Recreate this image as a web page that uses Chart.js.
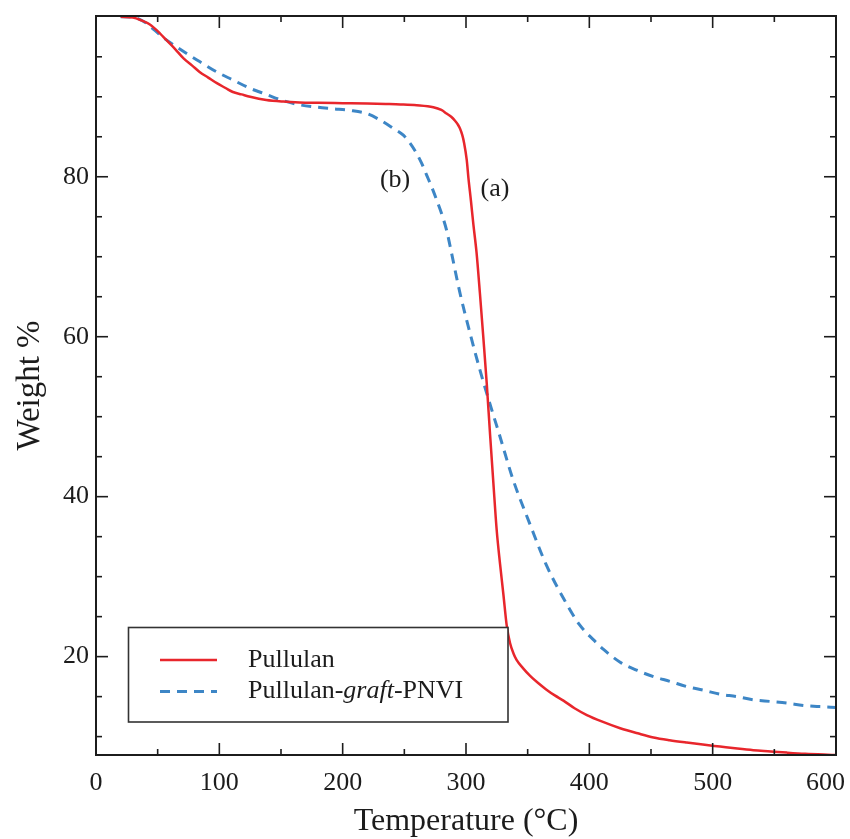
<!DOCTYPE html>
<html><head><meta charset="utf-8">
<script src="https://cdn.jsdelivr.net/npm/chart.js@4/dist/chart.umd.min.js"></script>
<style>html,body{margin:0;padding:0;background:#fff;}canvas{display:block;}</style>
</head><body>
<canvas id="c" width="850" height="839"></canvas>
<script>
// ---- data ----
const pullulanTemp   = [20, 30, 36, 44, 52, 57, 64, 71, 78, 84, 91, 98, 105, 111, 118, 125, 138, 152, 165, 180, 200, 220, 235, 247, 260, 273.5, 280, 284.3, 288, 291.1, 293.5, 295.2, 297, 298.5, 300.6, 302, 304, 306, 308.5, 311.3, 314, 316.8, 319.5, 322.2, 324.9, 327.6, 330.3, 333, 335.7, 338.5, 341, 346, 352, 358.5, 365, 372, 379, 388, 398, 410, 425, 440, 452, 465, 479, 492, 506, 520, 533, 547, 560, 575, 590, 600];
const pullulanWeight = [100, 99.9, 99.6, 99.0, 97.9, 97.1, 96.0, 94.8, 93.9, 93.1, 92.4, 91.7, 91.1, 90.6, 90.3, 90.0, 89.6, 89.4, 89.3, 89.25, 89.2, 89.15, 89.1, 89.05, 88.95, 88.7, 88.35, 87.9, 87.5, 87.0, 86.5, 86.0, 85.2, 84.2, 82.1, 79.8, 77.0, 74.0, 70.6, 65.4, 60.0, 54.2, 47.8, 41.7, 35.8, 31.6, 27.8, 23.9, 21.7, 20.4, 19.6, 18.6, 17.6, 16.7, 15.9, 15.15, 14.5, 13.55, 12.7, 11.9, 11.05, 10.38, 9.9, 9.55, 9.25, 9.0, 8.75, 8.5, 8.3, 8.15, 8.0, 7.85, 7.75, 7.7];
const graftTemp      = [20, 30, 40, 47, 53, 60, 73.5, 84, 98, 111, 125, 138, 152, 165, 179, 192.5, 206, 219.5, 230.3, 241.1, 249.2, 254.6, 260, 264, 268.1, 272.1, 276.2, 280.2, 284.3, 287, 295.2, 303, 311, 319, 327, 338, 352, 365, 379, 392, 406, 411.5, 425, 438.5, 452, 465.5, 479, 492.5, 506, 519.5, 533, 546.5, 560, 573.5, 587, 600];
const graftWeight    = [100, 99.95, 99.3, 98.4, 97.6, 96.8, 95.4, 94.4, 93.1, 92.1, 91.05, 90.3, 89.5, 89.0, 88.7, 88.5, 88.3, 87.9, 87.1, 86.05, 85.2, 84.2, 82.9, 81.7, 80.2, 78.75, 77.1, 75.4, 73.3, 71.4, 65.4, 60.6, 56.0, 51.8, 47.8, 42.2, 36.5, 31.5, 27.3, 24.0, 21.7, 20.9, 19.3, 18.3, 17.5, 16.9, 16.25, 15.8, 15.3, 15.0, 14.6, 14.4, 14.2, 13.9, 13.75, 13.65];
const seriesLabels   = ['Pullulan', 'Pullulan-graft-PNVI'];
const xTickLabels    = [0, 100, 200, 300, 400, 500, 600];
const yTickLabels    = [20, 40, 60, 80];
const xMinorTicks    = [50, 150, 250, 350, 450, 550];
const yMinorTicks    = [10, 15, 25, 30, 35, 45, 50, 55, 65, 70, 75, 85, 90, 95];
const curveNotes     = [{text: '(b)', x: 242.5, y: 79.6}, {text: '(a)', x: 323.5, y: 78.4}];

const SERIF = "'Liberation Serif', 'Times New Roman', serif";
const INK = '#1c1c1c';
const RED = '#e8262c';
const BLUE = '#3d86c6';

const framePlugin = {
  id: 'frameTicks',
  afterDatasetsDraw(chart) {
    const ctx = chart.ctx, a = chart.chartArea;
    const xs = chart.scales.x, ys = chart.scales.y;
    ctx.save();
    ctx.strokeStyle = INK;
    ctx.lineWidth = 1.6;
    const tick = (x1, y1, x2, y2) => { ctx.beginPath(); ctx.moveTo(x1, y1); ctx.lineTo(x2, y2); ctx.stroke(); };
    xTickLabels.forEach(v => { const p = xs.getPixelForValue(v); tick(p, a.bottom, p, a.bottom - 12); tick(p, a.top, p, a.top + 12); });
    xMinorTicks.forEach(v => { const p = xs.getPixelForValue(v); tick(p, a.bottom, p, a.bottom - 6); tick(p, a.top, p, a.top + 6); });
    yTickLabels.forEach(v => { const p = ys.getPixelForValue(v); tick(a.left, p, a.left + 12, p); tick(a.right, p, a.right - 12, p); });
    yMinorTicks.forEach(v => { const p = ys.getPixelForValue(v); tick(a.left, p, a.left + 6, p); tick(a.right, p, a.right - 6, p); });
    ctx.lineWidth = 2;
    ctx.strokeRect(a.left, a.top, a.right - a.left, a.bottom - a.top);

    // x tick labels (kept inside the canvas like the reference)
    ctx.fillStyle = INK;
    ctx.font = '26px ' + SERIF;
    ctx.textAlign = 'center';
    ctx.textBaseline = 'alphabetic';
    xTickLabels.forEach(v => {
      const s = String(v);
      const w = ctx.measureText(s).width;
      const p = Math.min(xs.getPixelForValue(v), chart.width - 5 - w / 2);
      ctx.fillText(s, p, a.bottom + 35);
    });

    // curve notes
    ctx.textBaseline = 'middle';
    curveNotes.forEach(n => ctx.fillText(n.text, xs.getPixelForValue(n.x), ys.getPixelForValue(n.y)));

    // legend box
    const bx = 128.5, by = 627.5, bw = 379.5, bh = 94.5;
    ctx.fillStyle = '#fff';
    ctx.fillRect(bx, by, bw, bh);
    ctx.lineWidth = 1.6;
    ctx.strokeStyle = '#333';
    ctx.strokeRect(bx, by, bw, bh);
    const rows = [660, 691.5];
    chart.data.datasets.forEach((ds, i) => {
      const y = rows[i];
      ctx.save();
      ctx.strokeStyle = ds.borderColor;
      ctx.lineWidth = ds.borderWidth;
      ctx.setLineDash(ds.borderDash || []);
      ctx.beginPath(); ctx.moveTo(160, y); ctx.lineTo(217, y); ctx.stroke();
      ctx.restore();
      ctx.fillStyle = INK;
      ctx.textAlign = 'left';
      ctx.textBaseline = 'middle';
      let x = 248;
      const parts = ds.label.split('-');
      parts.forEach((p, k) => {
        const italic = (k === 1 && parts.length === 3);
        ctx.font = (italic ? 'italic ' : '') + '26px ' + SERIF;
        ctx.fillText(p, x, y);
        x += ctx.measureText(p).width;
        if (k < parts.length - 1) {
          ctx.font = '26px ' + SERIF;
          ctx.fillText('-', x, y);
          x += ctx.measureText('-').width;
        }
      });
    });
    ctx.restore();
  }
};

new Chart(document.getElementById('c'), {
  type: 'line',
  data: {
    datasets: [
      { label: seriesLabels[0], data: pullulanTemp.map((t, i) => ({x: t, y: pullulanWeight[i]})),
        borderColor: RED, borderWidth: 2.5, pointRadius: 0, fill: false, cubicInterpolationMode: 'monotone' },
      { label: seriesLabels[1], data: graftTemp.map((t, i) => ({x: t, y: graftWeight[i]})),
        borderColor: BLUE, borderWidth: 3, borderDash: [10, 7], pointRadius: 0, fill: false, cubicInterpolationMode: 'monotone' }
    ]
  },
  options: {
    responsive: false,
    animation: false,
    devicePixelRatio: 1,
    layout: { padding: { left: 0, right: 14, top: 16, bottom: 0 } },
    plugins: { legend: { display: false }, tooltip: { enabled: false } },
    scales: {
      x: {
        type: 'linear', min: 0, max: 600,
        afterFit(s) { s.height = 84; s.paddingLeft = 0; s.paddingRight = 0; },
        afterBuildTicks(s) { s.ticks = xTickLabels.map(v => ({value: v})); },
        grid: { display: false, drawTicks: false },
        border: { display: false },
        ticks: { display: false },
        title: { display: true, text: 'Temperature (°C)', font: { family: SERIF, size: 32, lineHeight: 1.1 }, color: INK, padding: 0 }
      },
      y: {
        type: 'linear', min: 7.7, max: 100.1,
        afterFit(s) { s.width = 96; s.paddingTop = 0; s.paddingBottom = 0; },
        afterBuildTicks(s) { s.ticks = yTickLabels.map(v => ({value: v})); },
        grid: { display: false, drawTicks: false },
        border: { display: false },
        ticks: { font: { family: SERIF, size: 26 }, color: INK, padding: 7, autoSkip: false, callback: v => String(v) },
        title: { display: true, text: 'Weight %', font: { family: SERIF, size: 33, lineHeight: 1.1 }, color: INK, padding: { top: 12, bottom: 0 } }
      }
    }
  },
  plugins: [framePlugin]
});
</script>
</body></html>
